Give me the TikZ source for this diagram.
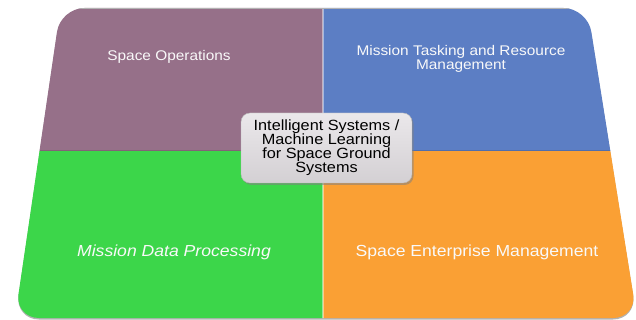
\documentclass[tikz,border=0pt]{standalone}
\usepackage{fontspec}
\setmainfont[FakeStretch=1.1]{Liberation Sans}
\usetikzlibrary{shadows}

\definecolor{opsviolet}{RGB}{150,112,137}
\definecolor{taskblue}{RGB}{92,126,196}
\definecolor{datagreen}{RGB}{60,214,74}
\definecolor{entorange}{RGB}{250,160,52}
\definecolor{hubgrey}{RGB}{226,222,226}

\tikzset{
  quadtop/.style={text=white!95!gray, font=\fontsize{14}{14}\selectfont, align=center},
  quadbottom/.style={text=white!95!gray, font=\fontsize{16}{16}\selectfont, align=center},
  hubbox/.style={draw=gray!55, rounded corners=9pt, top color=hubgrey!70!white,
    bottom color=hubgrey!85!gray, minimum width=171pt, minimum height=70pt,
    align=center, font=\fontsize{14.8}{14}\selectfont, inner sep=2pt,
    drop shadow={shadow xshift=1.5pt, shadow yshift=-2pt, opacity=0.55}}
}

\begin{document}
\begin{tikzpicture}[x=1pt,y=-1pt]
  \useasboundingbox (0,0) rectangle (636,320);
  % board edge underneath
  \fill[black!30, rounded corners=24pt, shift={(0,1.5)}]
    (60.5,8) -- (587.5,8) -- (637,318) -- (15,318) -- cycle;
  \begin{scope}
    \clip[rounded corners=24pt] (60.5,8) -- (587.5,8) -- (637,318) -- (15,318) -- cycle;
    \fill[opsviolet] (0,0) rectangle (323,151);
    \fill[taskblue] (323,0) rectangle (640,151);
    \fill[datagreen] (0,151) rectangle (323,330);
    \fill[entorange] (323,151) rectangle (640,330);
    \draw[white, opacity=0.45, line width=2pt] (323,0) -- (323,330); % split lines
    \draw[black, opacity=0.12, line width=1pt] (0,151) -- (640,151);
    \draw[gray!60, line width=0.6pt] (0,8.3) -- (640,8.3);
  \end{scope}

  \node[quadtop] (ops) at (169,57) {Space Operations};
  \node[quadtop] (tasking) at (461,58.5) {Mission Tasking and Resource\\Management};
  \node[quadbottom] (dataproc) at (174,252) {\itshape Mission Data Processing};
  \node[quadbottom] (enterprise) at (477,252) {Space Enterprise Management};

  \node[hubbox] (hub) at (326.5,148) {Intelligent Systems /\\Machine Learning\\for Space Ground\\Systems};
\end{tikzpicture}
\end{document}
